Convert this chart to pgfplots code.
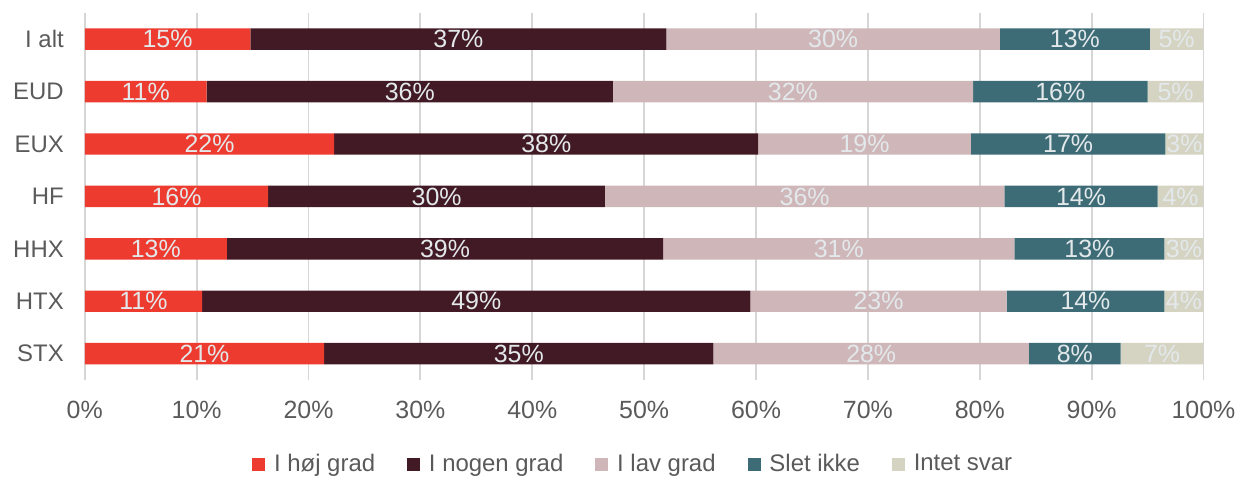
\documentclass[border=0pt]{standalone}
\usepackage{pgfplots}
\pgfplotsset{compat=1.18}
\usepackage{pgfplotstable}
\usepackage{fontspec}
\setmainfont{Liberation Sans}
\definecolor{cA}{HTML}{EE3B2F}
\definecolor{cB}{HTML}{421A25}
\definecolor{cC}{HTML}{CFB6B9}
\definecolor{cD}{HTML}{3D6C76}
\definecolor{cE}{HTML}{D5D3C2}
\definecolor{lbl}{HTML}{E3E9EB}
\definecolor{tk}{HTML}{5A5A5A}
\definecolor{grd}{HTML}{D6D6D6}

\pgfplotstableread{
y a b c d e
0 14.8 37.2 29.8 13.4 4.8
1 10.9 36.3 32.2 15.6 5.0
2 22.3 37.9 19.0 17.4 3.4
3 16.4 30.1 35.7 13.7 4.1
4 12.7 39.0 31.4 13.4 3.5
5 10.5 49.0 22.9 14.1 3.5
6 21.4 34.8 28.2 8.2 7.4
}\data

\pgfplotstableread{
y m1 l1 m2 l2 m3 l3 m4 l4 m5 l5
0 7.4 15 33.4 37 66.9 30 88.5 13 97.6 5
1 5.45 11 29.05 36 63.3 32 87.2 16 97.5 5
2 11.15 22 41.25 38 69.7 19 87.9 17 98.3 3
3 8.2 16 31.45 30 64.35 36 89.05 14 97.95 4
4 6.35 13 32.2 39 67.4 31 89.8 13 98.25 3
5 5.25 11 35.0 49 70.95 23 89.45 14 98.25 4
6 10.7 21 38.8 35 70.3 28 88.5 8 96.3 7
}\labels

\pgfplotsset{
  /pgf/number format/assume math mode=true,
  common/.style={
    scale only axis,
    width=561pt, height=184pt,
    xmin=0, xmax=100,
    ymin=-0.5, ymax=6.5,
    y dir=reverse,
  },
}

\begin{document}
\begin{tikzpicture}
\begin{axis}[
  common,
  xbar stacked,
  bar width=10.75pt,
  axis line style={draw=none},
  tick style={draw=none},
  xmajorgrids,
  grid style={grd, line width=0.9pt},
  xtick={0,10,...,100},
  xticklabel={\pgfmathprintnumber{\tick}\%},
  xticklabel style={font=\fontsize{12.5}{14}\selectfont, text=tk, yshift=-7pt},
  ytick={0,...,6},
  yticklabels={I alt, EUD, EUX, HF, HHX, HTX, STX},
  yticklabel style={font=\fontsize{12}{14}\selectfont, text=tk, xshift=-7pt},
  legend columns=5,
  legend style={draw=none, fill=none, at={(0.5,0)}, anchor=north,
    yshift=-35pt, xshift=-5pt, inner sep=0pt,
    font=\fontsize{12}{14}\selectfont, text=tk,
    /tikz/every even column/.append style={column sep=14pt},
    /tikz/every odd column/.append style={column sep=2.5pt}},
  legend image code/.code={\fill[#1] (0pt,-3.25pt) rectangle (6.5pt,3.25pt);},
]
\addplot[fill=cA, draw=none] table[x=a, y=y] {\data};
\addlegendentry{I høj grad}
\addplot[fill=cB, draw=none] table[x=b, y=y] {\data};
\addlegendentry{I nogen grad}
\addplot[fill=cC, draw=none] table[x=c, y=y] {\data};
\addlegendentry{I lav grad}
\addplot[fill=cD, draw=none] table[x=d, y=y] {\data};
\addlegendentry{Slet ikke}
\addplot[fill=cE, draw=none] table[x=e, y=y] {\data};
\addlegendentry{Intet svar}
\end{axis}
\begin{axis}[
  common,
  hide axis,
  nodes near coords={\pgfmathprintnumber[fixed,precision=0]{\pgfplotspointmeta}\%},
  nodes near coords style={anchor=center, text=lbl, font=\fontsize{12.5}{14}\selectfont, inner sep=0pt},
  point meta=explicit,
]
\addplot[draw=none] table[x=m1, y=y, meta=l1] {\labels};
\addplot[draw=none] table[x=m2, y=y, meta=l2] {\labels};
\addplot[draw=none] table[x=m3, y=y, meta=l3] {\labels};
\addplot[draw=none] table[x=m4, y=y, meta=l4] {\labels};
\addplot[draw=none] table[x=m5, y=y, meta=l5] {\labels};
\end{axis}
\path (current axis.south west) ++(-42.5pt,-48pt) rectangle ++(621pt,238.5pt);
\end{tikzpicture}
\end{document}
